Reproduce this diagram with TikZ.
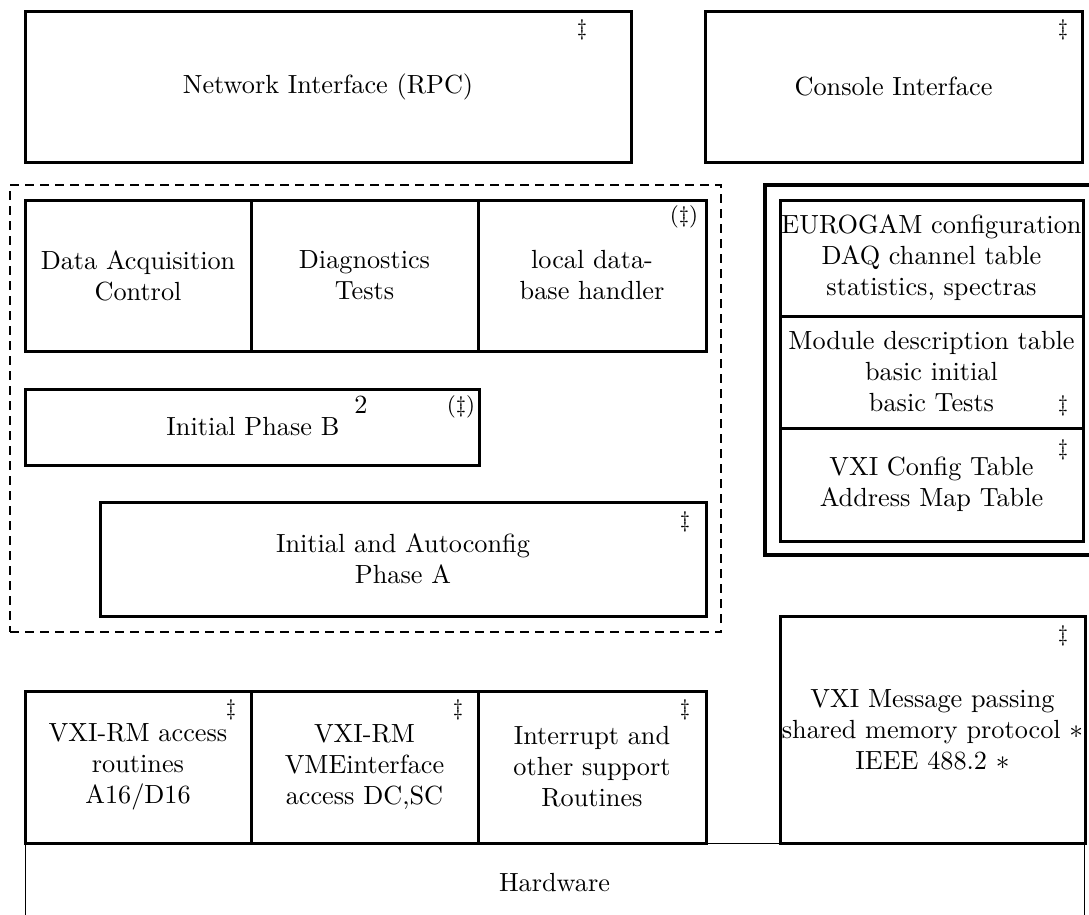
\documentclass[tikz,border=0pt]{standalone}
\usepackage{amsmath,amssymb}
\usetikzlibrary{positioning}
\newcommand{\boxfont}{\fontsize{10.5}{12.4}\selectfont}

\begin{document}
\begin{tikzpicture}[x=0.4pt,y=-0.4pt,
 blk/.style={draw=black,line width=1.2pt,align=center,inner sep=0pt,font=\boxfont},
 sz/.style 2 args={minimum width=#1*0.4pt,minimum height=#2*0.4pt},
 grp/.style={draw=black,line width=0.8pt,dash pattern=on 3.4pt off 2.6pt},
 frame/.style={draw=black,line width=1.4pt},
 tag/.style={font=\small,inner sep=0pt}]
\useasboundingbox (0,0) rectangle (1089,915);
\clip (0,0) rectangle (1089,915);

% hardware underneath everything
\node[draw=black,line width=0.4pt,font=\boxfont,sz={1059}{80}] (hw) at (554.5,883) {Hardware};

% top row
\node[blk,sz={606}{151}] (net) at (328,86.5) {Network Interface (RPC)};
\node[blk,sz={377}{151}] (console) at (893.5,86.5) {Console Interface};

% dashed group
\node[grp,sz={711}{447}] (core) at (365.5,408.5) {};
\node[blk,sz={226}{151}] (daq) at (138,275.5) {Data Acquisition\\Control};
\node[blk,sz={227}{151}] (diag) at (364.5,275.5) {Diagnostics\\Tests};
\node[blk,sz={228}{151}] (ldb) at (592,275.5) {local data-\\base handler};
\node[blk,sz={454}{76}] (phaseB) at (252,427)
 {\hspace{12pt}Initial Phase B\hspace{6pt}\smash{\raisebox{9pt}{2}}};
\node[blk,sz={606}{114}] (phaseA) at (403,559) {Initial and Autoconfig\\Phase A};

% tables on the right
\node[frame,sz={340}{370}] (tables) at (935,370) {};
\node[blk,sz={303}{116}] (eurogam) at (931.5,258)
 {EUROGAM configuration\\DAQ channel table\\statistics, spectras};
\node[blk,sz={303}{112}] (module) at (931.5,372)
 {Module description table\\basic initial\\basic Tests};
\node[blk,sz={303}{113}] (vxicfg) at (931.5,484.5) {VXI Config Table\\Address Map Table};

% message passing and access routines
\node[blk,sz={305}{227}] (vximsg) at (932.5,729.5)
 {VXI Message passing\\shared memory protocol $*$\\IEEE 488.2 $*$};
\node[blk,sz={226}{152}] (rmA) at (138,767) {VXI-RM access\\routines\\A16/D16};
\node[blk,sz={227}{152}] (rmB) at (364.5,767) {VXI-RM\\VMEinterface\\access DC,SC};
\node[blk,sz={228}{152}] (intr) at (592,767) {Interrupt and\\other support\\Routines};

% markers
\node[tag] (tNet) at (582,30) {\ddag};
\node[tag] (tConsole) at (1063,30) {\ddag};
\node[tag] (tLdb) at (684,217) {(\ddag)};
\node[tag] (tPhaseB) at (461,407) {(\ddag)};
\node[tag] (tPhaseA) at (685,522) {\ddag};
\node[tag] (tModule) at (1063,406) {\ddag};
\node[tag] (tVxicfg) at (1063,450) {\ddag};
\node[tag] (tVximsg) at (1063,636) {\ddag};
\node[tag] (tRmA) at (231,710) {\ddag};
\node[tag] (tRmB) at (458,710) {\ddag};
\node[tag] (tIntr) at (685,710) {\ddag};
\end{tikzpicture}
\end{document}
